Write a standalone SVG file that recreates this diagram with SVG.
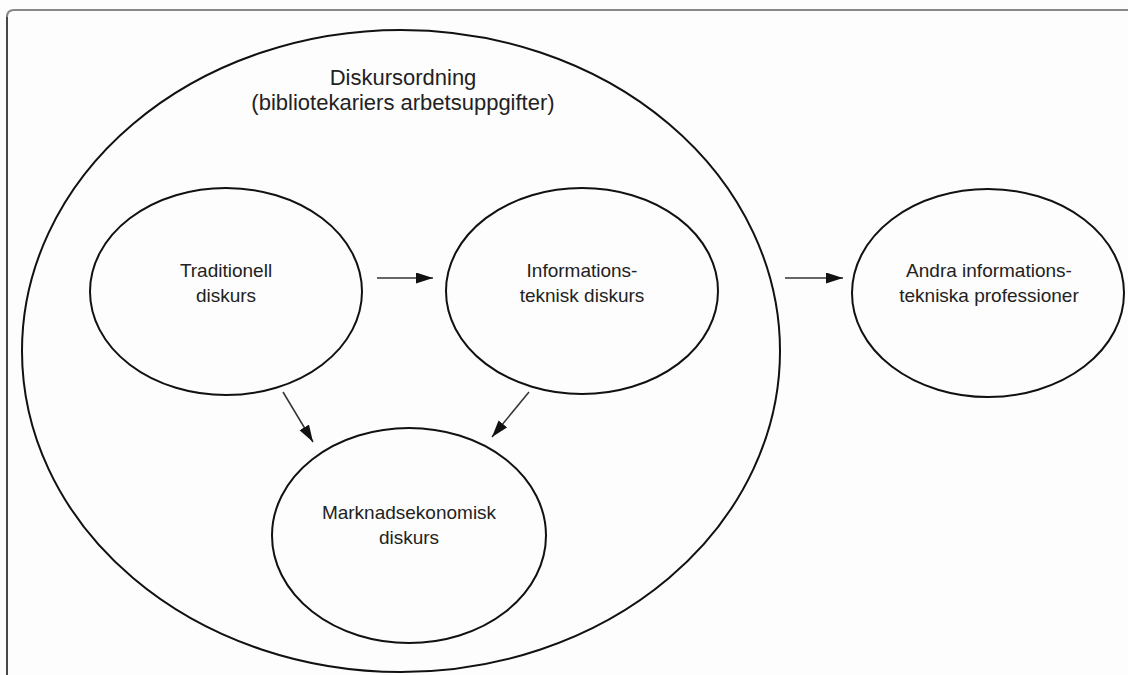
<svg xmlns="http://www.w3.org/2000/svg" width="1128" height="675" viewBox="0 0 1128 675">
  <defs>
    <marker id="arr" markerUnits="userSpaceOnUse" markerWidth="18" markerHeight="12" refX="17" refY="5.5" orient="auto">
      <path d="M0,0 L17,5.5 L0,11 z" fill="#111"/>
    </marker>
  </defs>
  <style>
    .node { fill: none; stroke: #111; stroke-width: 2; }
    .lbl { font-family: "Liberation Sans", Arial, sans-serif; font-size: 19px; fill: #222; text-anchor: middle; }
    .title { font-family: "Liberation Sans", Arial, sans-serif; font-size: 22px; fill: #222; text-anchor: middle; }
    .conn { stroke: #333; stroke-width: 1.5; fill: none; marker-end: url(#arr); }
  </style>
  <rect x="0" y="0" width="1128" height="675" fill="#fdfdfd"/>
  <g id="frame">
    <path d="M7,675 V17 Q7,10 14,10 H1128" fill="none" stroke="#888" stroke-width="2"/>
    <path d="M7,675 V17" fill="none" stroke="#333" stroke-width="1.5"/>
  </g>
  <g id="diskursordning">
    <ellipse class="node" cx="401" cy="351" rx="379" ry="321"/>
    <text class="title" x="403" y="85">Diskursordning</text>
    <text class="title" x="403" y="110">(bibliotekariers arbetsuppgifter)</text>
  </g>
  <g id="traditionell">
    <ellipse class="node" cx="226" cy="291.5" rx="136" ry="103.5"/>
    <text class="lbl" x="226" y="277">Traditionell</text>
    <text class="lbl" x="226" y="302">diskurs</text>
  </g>
  <g id="informationsteknisk">
    <ellipse class="node" cx="582" cy="291" rx="136" ry="103"/>
    <text class="lbl" x="582" y="277">Informations-</text>
    <text class="lbl" x="582" y="302">teknisk diskurs</text>
  </g>
  <g id="andra">
    <ellipse class="node" cx="988" cy="293" rx="136" ry="104"/>
    <text class="lbl" x="989" y="277">Andra informations-</text>
    <text class="lbl" x="989" y="302">tekniska professioner</text>
  </g>
  <g id="marknadsekonomisk">
    <ellipse class="node" cx="409" cy="535.5" rx="137" ry="107.5"/>
    <text class="lbl" x="409" y="519">Marknadsekonomisk</text>
    <text class="lbl" x="409" y="544">diskurs</text>
  </g>
  <g id="connectors">
    <line class="conn" x1="377" y1="278" x2="433" y2="278"/>
    <line class="conn" x1="785" y1="278" x2="843" y2="278"/>
    <line class="conn" x1="283" y1="392" x2="313" y2="442"/>
    <line class="conn" x1="529" y1="392" x2="492" y2="437"/>
  </g>
</svg>
